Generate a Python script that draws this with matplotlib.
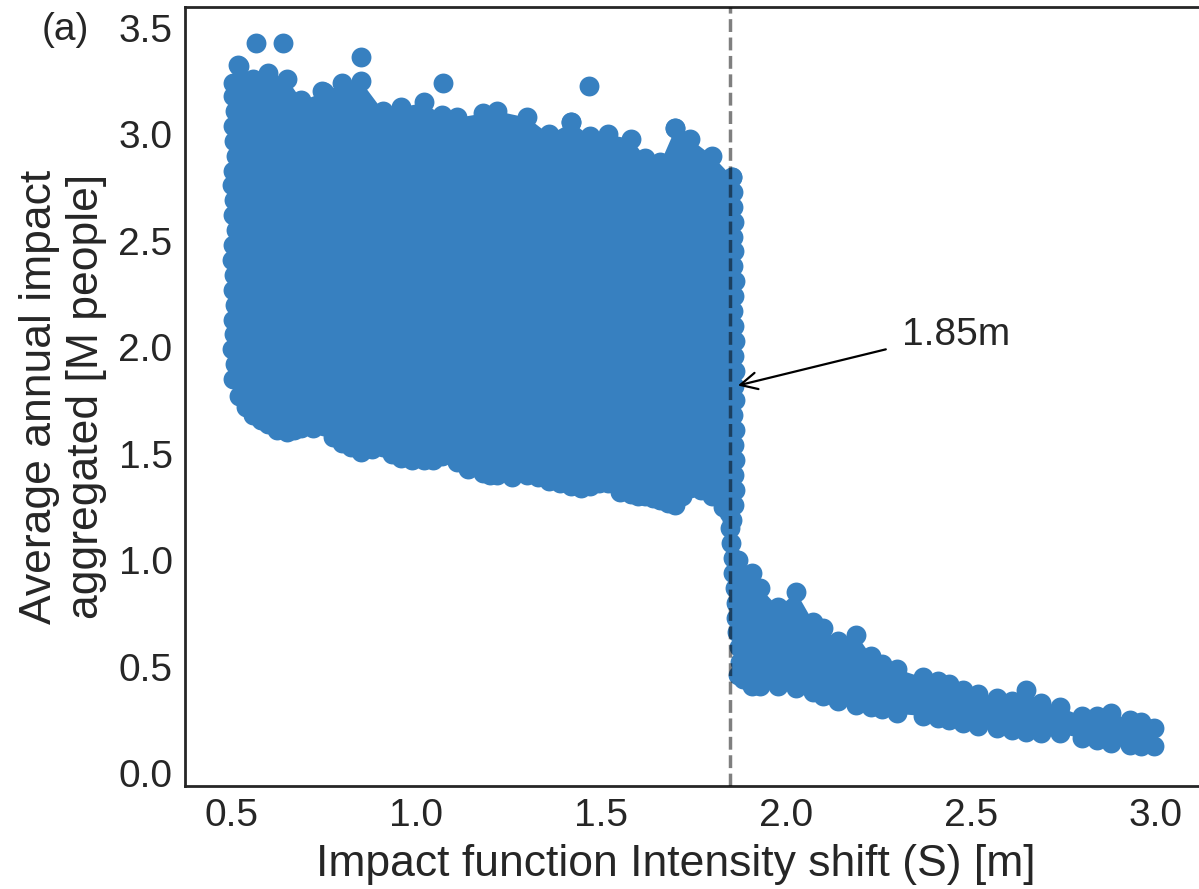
import matplotlib
matplotlib.use("Agg")
import matplotlib.pyplot as plt

# envelope of the main cloud (S < 1.85), marker centres
main_x = [0.505, 0.52, 0.56, 0.60, 0.65, 0.69, 0.75, 0.80, 0.85, 0.91, 0.96, 1.02, 1.07, 1.11,
          1.18, 1.22, 1.30, 1.36, 1.42, 1.47, 1.52, 1.58, 1.62, 1.66, 1.70, 1.74, 1.80, 1.855]
main_top = [3.24, 3.32, 3.26, 3.29, 3.26, 3.16, 3.20, 3.24, 3.25, 3.11, 3.13, 3.15, 3.09, 3.08,
            3.10, 3.11, 3.08, 3.00, 3.06, 2.99, 3.00, 2.98, 2.89, 2.87, 3.03, 2.98, 2.90, 2.80]
main_bot = [1.85, 1.77, 1.68, 1.64, 1.60, 1.62, 1.63, 1.55, 1.51, 1.53, 1.48, 1.47, 1.49, 1.46,
            1.41, 1.40, 1.40, 1.37, 1.35, 1.35, 1.36, 1.31, 1.30, 1.28, 1.26, 1.34, 1.30, 1.19]

# extra points along the lower edge of the main cloud
lower_x = [0.54, 0.58, 0.625, 0.67, 0.72, 0.775, 0.825, 0.88, 0.935, 0.99, 1.045, 1.09,
           1.14, 1.20, 1.26, 1.33, 1.39, 1.445, 1.495, 1.55, 1.60, 1.64, 1.68, 1.72, 1.77, 1.83]
lower_y = [1.72, 1.66, 1.61, 1.61, 1.62, 1.58, 1.53, 1.52, 1.50, 1.47, 1.47, 1.50,
           1.43, 1.40, 1.39, 1.39, 1.36, 1.34, 1.36, 1.32, 1.30, 1.29, 1.27, 1.30, 1.33, 1.25]

# left / right edges of the main cloud
left_x = [0.505, 0.51, 0.505, 0.508, 0.512, 0.505, 0.503, 0.508, 0.505, 0.512, 0.506, 0.503,
          0.508, 0.505, 0.51, 0.504, 0.507, 0.503, 0.51, 0.515]
left_y = [3.18, 3.11, 3.04, 2.97, 2.90, 2.83, 2.76, 2.69, 2.62, 2.55, 2.48, 2.41,
          2.34, 2.27, 2.20, 2.13, 2.06, 1.99, 1.92, 1.85]
right_x = [1.855, 1.858, 1.856, 1.86, 1.857, 1.86, 1.858, 1.862, 1.86, 1.858, 1.86, 1.862,
           1.859, 1.861, 1.86, 1.862, 1.858, 1.861, 1.86, 1.862, 1.86, 1.862, 1.86]
right_y = [2.80, 2.73, 2.66, 2.59, 2.52, 2.45, 2.38, 2.31, 2.24, 2.17, 2.10, 2.03,
           1.96, 1.89, 1.82, 1.75, 1.68, 1.61, 1.54, 1.47, 1.40, 1.33, 1.26]

# the steep drop around S = 1.85
drop_x = [1.845, 1.85, 1.852, 1.856, 1.858, 1.862, 1.864, 1.866, 1.868, 1.872, 1.876, 1.88, 1.885]
drop_y = [1.22, 1.15, 1.08, 1.01, 0.94, 0.87, 0.80, 0.73, 0.66, 0.59, 0.52, 0.47, 0.44]

# tail of the cloud (S > 1.85)
tail_x = [1.87, 1.908, 1.93, 1.978, 2.027, 2.073, 2.10, 2.14, 2.19, 2.23, 2.26, 2.30, 2.37, 2.41,
          2.44, 2.48, 2.52, 2.57, 2.61, 2.65, 2.69, 2.74, 2.80, 2.84, 2.88, 2.93, 2.96, 2.995]
tail_top = [1.00, 0.94, 0.87, 0.78, 0.85, 0.71, 0.68, 0.62, 0.65, 0.55, 0.51, 0.49, 0.45, 0.43,
            0.42, 0.39, 0.37, 0.35, 0.34, 0.39, 0.33, 0.31, 0.27, 0.27, 0.28, 0.25, 0.24, 0.21]
tail_bot = [0.46, 0.41, 0.41, 0.41, 0.40, 0.38, 0.36, 0.34, 0.32, 0.31, 0.30, 0.28, 0.27, 0.26,
            0.25, 0.235, 0.22, 0.21, 0.20, 0.193, 0.19, 0.188, 0.164, 0.155, 0.14, 0.13, 0.125, 0.125]

# isolated points above the cloud
out_x = [0.519, 0.568, 0.641, 0.746, 0.851, 1.073, 1.419, 1.468, 1.70]
out_y = [3.325, 3.429, 3.429, 3.203, 3.363, 3.24, 3.058, 3.227, 3.03]

threshold = 1.85
blue = "#3780c0"
dark = "#262626"

plt.rcParams["font.family"] = ["Liberation Sans", "DejaVu Sans"]

fig = plt.figure(figsize=(11.99, 8.89), dpi=100)
ax = fig.add_axes([0.1543, 0.1159, 0.8482, 0.8762])

ax.fill_between(main_x, main_bot, main_top, color=blue, lw=0, zorder=1)
ax.fill_between(tail_x, tail_bot, tail_top, color=blue, lw=0, zorder=1)

pts_x = main_x + main_x + lower_x + left_x + right_x + drop_x + tail_x + tail_x + out_x
pts_y = main_top + main_bot + lower_y + left_y + right_y + drop_y + tail_top + tail_bot + out_y
ax.scatter(pts_x, pts_y, s=205, color=blue, linewidths=0, zorder=2)

ax.axvline(threshold, color="k", alpha=0.5, ls="--", lw=2.5, zorder=3)

ax.annotate("", xy=(1.87, 1.82), xytext=(2.27, 1.99),
            arrowprops=dict(arrowstyle="->", color="k", lw=1.6, mutation_scale=30,
                            shrinkA=0, shrinkB=0), zorder=4)
ax.text(2.314, 2.01, "1.85m", fontsize=28, color=dark, va="baseline", ha="left")

ax.set_xlim(0.375, 3.125)
ax.set_ylim(-0.061, 3.598)
ax.set_xticks([0.5, 1.0, 1.5, 2.0, 2.5, 3.0])
ax.set_yticks([0.0, 0.5, 1.0, 1.5, 2.0, 2.5, 3.0, 3.5])
ax.set_xticklabels(["0.5", "1.0", "1.5", "2.0", "2.5", "3.0"])
ax.set_yticklabels(["0.0", "0.5", "1.0", "1.5", "2.0", "2.5", "3.0", "3.5"])
ax.tick_params(length=0, pad=9, labelsize=28, colors=dark)

for sp in ax.spines.values():
    sp.set_color(dark)
    sp.set_linewidth(2)
# the right spine sits just outside the cropped picture
ax.spines["right"].set_visible(False)

ax.set_xlabel("Impact function Intensity shift (S) [m]", fontsize=32, color=dark, labelpad=8)
ax.xaxis.set_label_coords(0.483, -0.075)
ax.set_ylabel("Average annual impact\naggregated [M people]", fontsize=32, color=dark, labelpad=8)

fig.text(42 / 1199, 1 - 30 / 889, "(a)", fontsize=28, color=dark, ha="left", va="center")

fig.savefig("out.png", dpi=100)
